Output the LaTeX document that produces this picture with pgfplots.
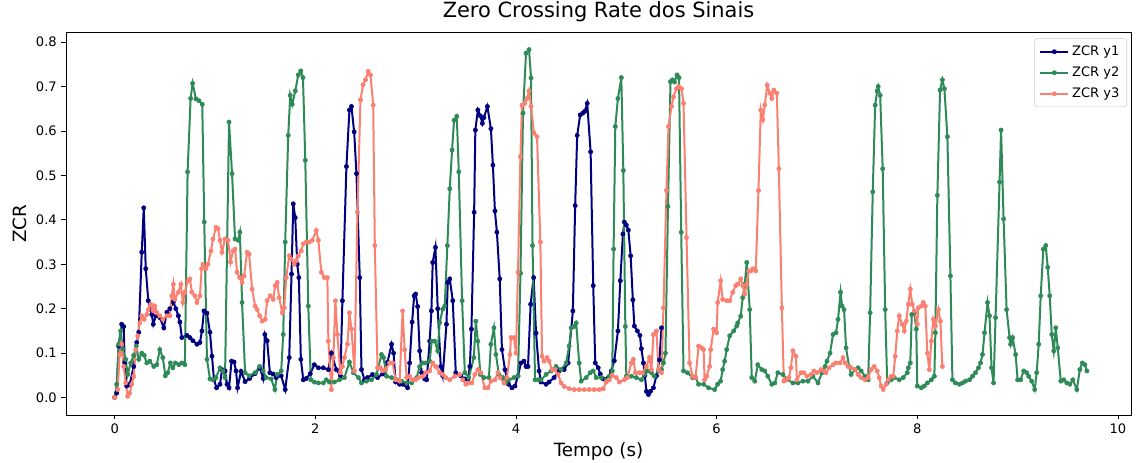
\documentclass[border=0pt]{standalone}
\usepackage{pgfplots}
\pgfplotsset{compat=1.18}
\usepackage{fontspec}
\setmainfont{DejaVu Sans}
\definecolor{c1}{HTML}{000080}
\definecolor{c2}{HTML}{2E8B57}
\definecolor{c3}{HTML}{FA8072}
\begin{document}
\begin{tikzpicture}
\begin{axis}[
  scale only axis,
  width=798.75pt, height=287pt,
  xmin=-0.485, xmax=10.13,
  ymin=-0.039, ymax=0.822,
  xtick={0,2,4,6,8,10},
  ytick={0,0.1,0.2,0.3,0.4,0.5,0.6,0.7,0.8},
  yticklabel style={/pgf/number format/.cd, fixed, fixed zerofill, precision=1},
  /pgf/number format/assume math mode=true,
  tick label style={font=\fontsize{9.8}{11}\selectfont},
  tick align=outside,
  tickpos=left,
  major tick length=3.4pt,
  axis line style={black, line width=0.6pt},
  every tick/.style={black, line width=0.6pt},
  title={Zero Crossing Rate dos Sinais},
  title style={font=\fontsize{15.7}{18}\selectfont, at={(0.5,1)}, anchor=base, yshift=4.7pt},
  xlabel={Tempo (s)},
  xlabel style={font=\fontsize{13.7}{16}\selectfont, at={(0.5,0)}, anchor=base, yshift=-31.5pt},
  ylabel={ZCR},
  every axis y label/.style={at={(rel axis cs:0,0.5)}, xshift=-34.5pt, rotate=90, anchor=center, font=\fontsize{13.7}{16}\selectfont},
  legend style={at={(1,1)}, anchor=north east, xshift=-3pt, yshift=-4.5pt, draw=black!20, rounded corners=2pt, font=\fontsize{9.8}{12}\selectfont, row sep=3pt, inner sep=3.5pt},
  legend cell align=left,
  legend image code/.code={\draw[mark repeat=2,mark phase=2] plot coordinates {(0pt,0pt) (10.5pt,0pt) (21pt,0pt)};},
  every axis plot/.append style={line width=1.5pt, mark=*, mark size=1.6pt, mark options={solid, line width=0.4pt}},
]
\addplot[color=c1] coordinates {
(0.00,0.000)(0.02,0.010)(0.04,0.116)(0.07,0.165)(0.09,0.160)(0.10,0.079)(0.12,0.026)(0.15,0.030)(0.19,0.070)(0.22,0.124)
(0.24,0.147)(0.27,0.327)(0.29,0.427)(0.31,0.290)(0.335,0.218)(0.37,0.187)(0.385,0.165)(0.41,0.184)(0.45,0.180)(0.49,0.157)
(0.52,0.192)(0.55,0.200)(0.585,0.215)(0.61,0.200)(0.635,0.184)(0.65,0.170)(0.67,0.135)(0.72,0.140)(0.75,0.135)(0.78,0.128)
(0.82,0.120)(0.85,0.124)(0.87,0.150)(0.89,0.195)(0.92,0.190)(0.95,0.147)(0.97,0.093)(0.99,0.040)(1.016,0.022)(1.05,0.030)
(1.07,0.063)(1.10,0.060)(1.12,0.030)(1.14,0.022)(1.165,0.082)(1.19,0.080)(1.21,0.060)(1.225,0.022)(1.26,0.059)(1.30,0.036)
(1.345,0.043)(1.40,0.054)(1.447,0.067)(1.48,0.043)(1.497,0.142)(1.52,0.128)(1.547,0.056)(1.58,0.053)(1.61,0.045)(1.66,0.049)
(1.70,0.018)(1.74,0.090)(1.763,0.278)(1.78,0.436)(1.80,0.405)(1.82,0.300)(1.836,0.270)(1.856,0.086)(1.88,0.040)(1.91,0.043)
(1.95,0.054)(1.99,0.074)(2.03,0.067)(2.08,0.067)(2.13,0.063)(2.16,0.100)(2.21,0.063)(2.25,0.049)(2.27,0.218)(2.31,0.520)
(2.34,0.647)(2.36,0.655)(2.387,0.598)(2.41,0.504)(2.443,0.270)(2.46,0.063)(2.49,0.040)(2.52,0.045)(2.57,0.052)(2.62,0.045)
(2.67,0.053)(2.72,0.080)(2.76,0.120)(2.78,0.100)(2.80,0.035)(2.84,0.030)(2.87,0.030)(2.92,0.022)(2.94,0.078)(2.965,0.170)
(2.985,0.229)(3.00,0.233)(3.02,0.205)(3.04,0.105)(3.06,0.056)(3.09,0.042)(3.11,0.040)(3.14,0.127)(3.157,0.195)(3.17,0.304)
(3.197,0.338)(3.22,0.200)(3.25,0.070)(3.27,0.049)(3.307,0.165)(3.32,0.259)(3.34,0.267)(3.37,0.218)(3.40,0.056)(3.45,0.049)
(3.49,0.042)(3.52,0.040)(3.54,0.070)(3.556,0.154)(3.583,0.417)(3.595,0.602)(3.62,0.647)(3.645,0.634)(3.665,0.617)(3.68,0.630)
(3.715,0.655)(3.75,0.605)(3.77,0.523)(3.79,0.420)(3.81,0.372)(3.838,0.267)(3.86,0.108)(3.89,0.063)(3.925,0.030)(3.96,0.022)
(3.99,0.026)(4.02,0.049)(4.05,0.078)(4.08,0.082)(4.10,0.070)(4.12,0.070)(4.146,0.210)(4.176,0.270)(4.20,0.145)(4.23,0.060)
(4.25,0.035)(4.30,0.030)(4.33,0.035)(4.38,0.045)(4.43,0.060)(4.48,0.063)(4.52,0.078)(4.567,0.195)(4.59,0.432)(4.61,0.590)
(4.64,0.636)(4.665,0.640)(4.685,0.644)(4.71,0.662)(4.744,0.553)(4.77,0.252)(4.79,0.078)(4.82,0.067)(4.84,0.053)(4.87,0.042)
(4.92,0.045)(4.95,0.060)(4.98,0.083)(5.016,0.150)(5.04,0.263)(5.066,0.368)(5.08,0.395)(5.10,0.388)(5.12,0.377)(5.143,0.319)
(5.165,0.220)(5.18,0.161)(5.21,0.150)(5.235,0.140)(5.25,0.110)(5.27,0.078)(5.285,0.050)(5.30,0.014)(5.32,0.007)(5.34,0.014)
(5.37,0.022)(5.40,0.049)(5.43,0.085)(5.45,0.157)
};
\addlegendentry{ZCR y1}
\addplot[color=c2] coordinates {
(0.00,0.000)(0.02,0.030)(0.04,0.120)(0.06,0.150)(0.08,0.110)(0.11,0.086)(0.13,0.052)(0.16,0.078)(0.19,0.095)(0.215,0.116)
(0.24,0.086)(0.27,0.100)(0.295,0.095)(0.32,0.078)(0.35,0.082)(0.39,0.070)(0.42,0.074)(0.45,0.108)(0.48,0.090)(0.505,0.049)
(0.53,0.056)(0.555,0.078)(0.58,0.067)(0.605,0.078)(0.64,0.074)(0.67,0.078)(0.70,0.074)(0.727,0.508)(0.757,0.673)(0.777,0.707)
(0.81,0.672)(0.84,0.668)(0.873,0.660)(0.893,0.395)(0.92,0.086)(0.95,0.042)(0.98,0.040)(1.01,0.045)(1.05,0.067)(1.08,0.060)
(1.10,0.045)(1.14,0.620)(1.17,0.504)(1.20,0.357)(1.23,0.354)(1.248,0.372)(1.27,0.214)(1.30,0.056)(1.34,0.049)(1.40,0.056)
(1.445,0.070)(1.48,0.060)(1.51,0.045)(1.56,0.042)(1.597,0.018)(1.62,0.052)(1.66,0.060)(1.68,0.142)(1.70,0.350)(1.73,0.590)
(1.75,0.680)(1.77,0.660)(1.80,0.690)(1.83,0.726)(1.855,0.735)(1.877,0.720)(1.90,0.534)(1.93,0.206)(1.955,0.040)(1.99,0.035)
(2.03,0.033)(2.08,0.033)(2.11,0.040)(2.14,0.035)(2.19,0.035)(2.24,0.040)(2.29,0.045)(2.34,0.080)(2.38,0.056)(2.43,0.045)
(2.46,0.033)(2.51,0.037)(2.56,0.040)(2.61,0.052)(2.66,0.097)(2.68,0.090)(2.71,0.048)(2.76,0.045)(2.81,0.040)(2.86,0.037)
(2.91,0.033)(2.96,0.033)(3.01,0.045)(3.04,0.070)(3.07,0.078)(3.10,0.078)(3.14,0.082)(3.16,0.127)(3.19,0.127)(3.22,0.105)
(3.24,0.169)(3.27,0.199)(3.29,0.206)(3.316,0.342)(3.34,0.470)(3.363,0.557)(3.383,0.624)(3.41,0.633)(3.43,0.508)(3.463,0.218)
(3.49,0.056)(3.53,0.045)(3.58,0.090)(3.60,0.172)(3.62,0.127)(3.645,0.052)(3.68,0.045)(3.73,0.045)(3.75,0.120)(3.78,0.157)
(3.80,0.097)(3.83,0.052)(3.87,0.045)(3.90,0.033)(3.93,0.040)(3.98,0.045)(4.02,0.048)(4.045,0.280)(4.07,0.640)(4.10,0.775)
(4.13,0.783)(4.15,0.719)(4.165,0.342)(4.19,0.040)(4.22,0.040)(4.25,0.040)(4.30,0.052)(4.35,0.060)(4.40,0.070)(4.45,0.063)
(4.50,0.078)(4.53,0.116)(4.55,0.157)(4.58,0.160)(4.60,0.168)(4.63,0.078)(4.65,0.037)(4.70,0.045)(4.74,0.056)(4.77,0.060)
(4.80,0.045)(4.85,0.045)(4.90,0.040)(4.93,0.048)(4.96,0.060)(4.973,0.334)(4.99,0.610)(5.016,0.673)(5.05,0.720)(5.07,0.511)
(5.09,0.160)(5.10,0.048)(5.15,0.048)(5.20,0.045)(5.25,0.040)(5.28,0.052)(5.31,0.060)(5.35,0.056)(5.38,0.048)(5.42,0.060)
(5.45,0.063)(5.47,0.078)(5.49,0.100)(5.515,0.430)(5.54,0.711)(5.56,0.715)(5.58,0.710)(5.605,0.726)(5.625,0.720)(5.647,0.372)
(5.67,0.060)(5.71,0.056)(5.76,0.045)(5.79,0.045)(5.82,0.030)(5.87,0.030)(5.92,0.022)(5.98,0.018)(6.01,0.030)(6.04,0.037)
(6.06,0.063)(6.08,0.082)(6.10,0.108)(6.13,0.139)(6.17,0.150)(6.20,0.161)(6.21,0.168)(6.24,0.183)(6.26,0.225)(6.28,0.255)
(6.30,0.304)(6.33,0.198)(6.35,0.045)(6.38,0.037)(6.41,0.074)(6.45,0.063)(6.48,0.060)(6.51,0.048)(6.55,0.030)(6.58,0.033)
(6.61,0.056)(6.66,0.052)(6.71,0.040)(6.76,0.033)(6.81,0.033)(6.86,0.037)(6.91,0.037)(6.96,0.048)(7.01,0.033)(7.05,0.056)
(7.08,0.070)(7.10,0.082)(7.13,0.100)(7.16,0.142)(7.19,0.146)(7.21,0.176)(7.235,0.237)(7.25,0.206)(7.27,0.198)(7.29,0.112)
(7.32,0.070)(7.34,0.052)(7.38,0.063)(7.41,0.067)(7.44,0.060)(7.48,0.048)(7.51,0.040)(7.53,0.191)(7.556,0.463)(7.58,0.658)
(7.60,0.690)(7.61,0.700)(7.63,0.680)(7.655,0.515)(7.68,0.198)(7.70,0.033)(7.74,0.040)(7.77,0.045)(7.82,0.040)(7.86,0.045)
(7.90,0.056)(7.91,0.067)(7.93,0.078)(7.945,0.187)(7.97,0.191)(7.99,0.154)(8.00,0.026)(8.04,0.022)(8.07,0.026)(8.10,0.033)
(8.14,0.040)(8.17,0.048)(8.18,0.146)(8.20,0.455)(8.227,0.692)(8.25,0.715)(8.27,0.695)(8.30,0.587)(8.33,0.274)(8.35,0.040)
(8.38,0.033)(8.42,0.030)(8.45,0.033)(8.48,0.037)(8.52,0.040)(8.55,0.048)(8.58,0.056)(8.61,0.067)(8.63,0.078)(8.65,0.097)
(8.67,0.146)(8.70,0.214)(8.72,0.184)(8.74,0.067)(8.76,0.033)(8.78,0.180)(8.82,0.485)(8.835,0.602)(8.86,0.402)(8.89,0.198)
(8.92,0.135)(8.93,0.120)(8.95,0.135)(8.98,0.097)(9.00,0.040)(9.03,0.040)(9.06,0.060)(9.09,0.056)(9.11,0.048)(9.14,0.037)
(9.17,0.018)(9.19,0.056)(9.21,0.120)(9.23,0.229)(9.256,0.334)(9.28,0.342)(9.30,0.293)(9.32,0.229)(9.34,0.142)(9.36,0.105)
(9.38,0.157)(9.40,0.112)(9.43,0.037)(9.46,0.040)(9.49,0.033)(9.52,0.030)(9.55,0.040)(9.59,0.018)(9.62,0.063)(9.645,0.078)
(9.67,0.074)(9.69,0.060)
};
\addlegendentry{ZCR y2}
\addplot[color=c3] coordinates {
(0.00,0.000)(0.03,0.018)(0.05,0.097)(0.07,0.120)(0.09,0.070)(0.11,0.033)(0.13,0.003)(0.15,0.010)(0.17,0.030)(0.19,0.048)
(0.21,0.108)(0.23,0.139)(0.25,0.168)(0.27,0.184)(0.295,0.176)(0.32,0.187)(0.335,0.198)(0.36,0.210)(0.385,0.195)(0.40,0.206)
(0.42,0.191)(0.45,0.184)(0.48,0.176)(0.52,0.184)(0.55,0.184)(0.57,0.229)(0.585,0.255)(0.60,0.221)(0.635,0.237)(0.66,0.255)
(0.68,0.214)(0.70,0.237)(0.73,0.263)(0.75,0.267)(0.77,0.237)(0.80,0.229)(0.82,0.214)(0.85,0.229)(0.867,0.290)(0.88,0.300)
(0.91,0.290)(0.93,0.300)(0.96,0.330)(0.98,0.357)(1.01,0.383)(1.03,0.380)(1.05,0.354)(1.07,0.327)(1.10,0.357)(1.13,0.354)
(1.155,0.305)(1.18,0.330)(1.20,0.334)(1.22,0.282)(1.245,0.270)(1.27,0.259)(1.29,0.274)(1.32,0.327)(1.34,0.323)(1.37,0.244)
(1.40,0.206)(1.42,0.198)(1.445,0.184)(1.47,0.172)(1.50,0.176)(1.52,0.218)(1.55,0.229)(1.58,0.221)(1.60,0.252)(1.62,0.259)
(1.64,0.225)(1.67,0.191)(1.69,0.202)(1.71,0.270)(1.74,0.319)(1.76,0.312)(1.79,0.300)(1.81,0.308)(1.83,0.319)(1.86,0.330)
(1.88,0.346)(1.91,0.350)(1.94,0.350)(1.97,0.354)(2.01,0.376)(2.03,0.354)(2.06,0.282)(2.09,0.270)(2.12,0.270)(2.13,0.127)
(2.16,0.018)(2.18,0.090)(2.20,0.218)(2.22,0.142)(2.25,0.056)(2.27,0.070)(2.29,0.090)(2.32,0.120)(2.34,0.191)(2.36,0.154)
(2.39,0.060)(2.42,0.417)(2.45,0.670)(2.476,0.704)(2.50,0.715)(2.527,0.734)(2.55,0.726)(2.577,0.658)(2.593,0.342)(2.62,0.067)
(2.65,0.067)(2.67,0.060)(2.70,0.063)(2.74,0.078)(2.77,0.078)(2.80,0.040)(2.84,0.037)(2.87,0.195)(2.89,0.108)(2.91,0.045)
(2.94,0.048)(2.97,0.040)(3.00,0.040)(3.03,0.045)(3.07,0.048)(3.10,0.056)(3.14,0.060)(3.17,0.078)(3.20,0.070)(3.24,0.056)
(3.27,0.052)(3.30,0.045)(3.34,0.040)(3.39,0.048)(3.44,0.052)(3.47,0.040)(3.50,0.030)(3.52,0.033)(3.56,0.033)(3.59,0.052)
(3.62,0.063)(3.65,0.056)(3.69,0.022)(3.72,0.022)(3.75,0.037)(3.79,0.040)(3.82,0.056)(3.84,0.045)(3.88,0.033)(3.91,0.045)
(3.94,0.097)(3.95,0.135)(3.98,0.135)(4.00,0.100)(4.02,0.282)(4.044,0.542)(4.06,0.658)(4.087,0.662)(4.11,0.673)(4.13,0.690)
(4.15,0.655)(4.18,0.595)(4.21,0.587)(4.243,0.350)(4.26,0.093)(4.28,0.082)(4.31,0.090)(4.33,0.082)(4.36,0.063)(4.39,0.063)
(4.42,0.052)(4.45,0.033)(4.48,0.025)(4.53,0.020)(4.58,0.018)(4.63,0.018)(4.68,0.018)(4.73,0.018)(4.78,0.018)(4.83,0.018)
(4.87,0.020)(4.90,0.035)(4.93,0.040)(4.96,0.050)(5.00,0.045)(5.03,0.035)(5.08,0.040)(5.11,0.045)(5.15,0.078)(5.17,0.086)
(5.19,0.056)(5.23,0.056)(5.26,0.056)(5.30,0.070)(5.33,0.090)(5.35,0.063)(5.37,0.142)(5.40,0.150)(5.42,0.063)(5.45,0.056)
(5.47,0.202)(5.50,0.466)(5.52,0.610)(5.55,0.655)(5.57,0.677)(5.60,0.695)(5.62,0.700)(5.65,0.695)(5.67,0.662)(5.70,0.360)
(5.73,0.078)(5.76,0.048)(5.79,0.045)(5.82,0.116)(5.85,0.112)(5.87,0.108)(5.88,0.040)(5.90,0.048)(5.93,0.070)(5.94,0.108)
(5.97,0.154)(6.00,0.146)(6.01,0.214)(6.04,0.263)(6.06,0.221)(6.10,0.218)(6.13,0.218)(6.16,0.237)(6.19,0.252)(6.21,0.255)
(6.24,0.267)(6.26,0.252)(6.28,0.233)(6.30,0.255)(6.32,0.285)(6.34,0.285)(6.36,0.290)(6.39,0.285)(6.417,0.466)(6.44,0.647)
(6.46,0.625)(6.48,0.658)(6.504,0.703)(6.53,0.685)(6.55,0.673)(6.57,0.692)(6.60,0.685)(6.62,0.515)(6.65,0.202)(6.67,0.037)
(6.70,0.040)(6.72,0.045)(6.74,0.067)(6.76,0.105)(6.79,0.093)(6.80,0.040)(6.84,0.056)(6.87,0.056)(6.90,0.048)(6.94,0.052)
(6.97,0.060)(7.00,0.056)(7.04,0.063)(7.07,0.060)(7.09,0.056)(7.12,0.067)(7.16,0.074)(7.19,0.078)(7.23,0.078)(7.26,0.090)
(7.28,0.078)(7.31,0.070)(7.34,0.067)(7.38,0.063)(7.41,0.052)(7.44,0.045)(7.48,0.040)(7.51,0.045)(7.54,0.063)(7.57,0.070)
(7.60,0.060)(7.62,0.045)(7.64,0.026)(7.66,0.018)(7.69,0.030)(7.71,0.040)(7.74,0.048)(7.76,0.048)(7.78,0.093)(7.80,0.150)
(7.82,0.184)(7.85,0.165)(7.87,0.150)(7.89,0.172)(7.91,0.210)(7.93,0.244)(7.95,0.210)(7.97,0.195)(8.00,0.165)(8.01,0.202)
(8.04,0.206)(8.06,0.214)(8.08,0.206)(8.10,0.100)(8.12,0.063)(8.14,0.127)(8.16,0.176)(8.18,0.161)(8.21,0.198)(8.23,0.172)
(8.25,0.070)
};
\addlegendentry{ZCR y3}
\end{axis}
\pgfresetboundingbox
\path[use as bounding box] ([xshift=-49.5pt,yshift=-36pt]current axis.south west) rectangle ([xshift=3.75pt,yshift=24.2pt]current axis.north east);
\end{tikzpicture}
\end{document}
